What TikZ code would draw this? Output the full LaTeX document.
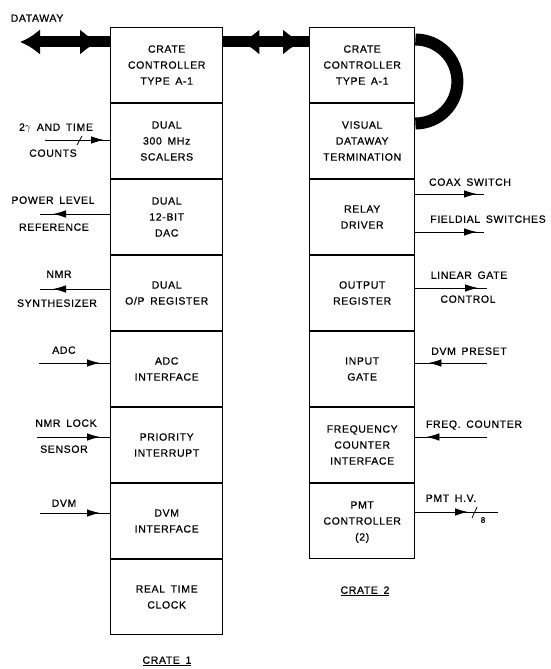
\documentclass[tikz,border=0pt]{standalone}
\usepackage{fontspec}
\setmainfont{Liberation Sans}
\newfontfamily\lettering[LetterSpace=6, WordSpace=1.6, FakeBold=0.6]{Liberation Sans}
\usetikzlibrary{positioning,arrows.meta,decorations.markings}

\begin{document}
\begin{tikzpicture}[
    x=1pt, y=-1pt,
    every node/.style={font=\lettering\fontsize{10.5}{16}\selectfont},
    module/.style={draw, line width=1.4pt, minimum height=74.6pt, align=center, inner sep=2pt},
    crateone/.style={module, minimum width=112pt},
    cratetwo/.style={module, minimum width=105pt},
    lbl/.style={inner sep=0pt, text height=7.5pt, text depth=0pt},
    sig/.style={line width=0.8pt},
    tipat/.style={postaction={decorate, decoration={markings,
        mark=at position #1 with {\arrow{Latex[length=13pt,width=7.5pt]}}}}},
    bus/.style={line width=11pt},
    busfwd/.style={postaction={decorate, decoration={markings,
        mark=at position #1 with {\arrow{Latex[length=19pt,width=26pt]}}}}},
    busback/.style={postaction={decorate, decoration={markings,
        mark=at position #1 with {\arrowreversed{Latex[length=19pt,width=26pt]}}}}},
  ]
  \useasboundingbox (0,0) rectangle (550,669);

  % Crate 1
  \node[crateone, anchor=north west] (cc1) at (110,27) {CRATE\\CONTROLLER\\TYPE A-1};
  \node[crateone, below=0pt of cc1] (scal) {DUAL\\300 MHz\\SCALERS};
  \node[crateone, below=0pt of scal] (dac) {DUAL\\12-BIT\\DAC};
  \node[crateone, below=0pt of dac] (opreg) {DUAL\\O/P REGISTER};
  \node[crateone, below=0pt of opreg] (adcif) {ADC\\INTERFACE};
  \node[crateone, below=0pt of adcif] (prio) {PRIORITY\\INTERRUPT};
  \node[crateone, below=0pt of prio] (dvmif) {DVM\\INTERFACE};
  \node[crateone, below=0pt of dvmif] (rtc) {REAL TIME\\CLOCK};

  % Crate 2
  \node[cratetwo, anchor=north west] (cc2) at (309,27) {CRATE\\CONTROLLER\\TYPE A-1};
  \node[cratetwo, below=0pt of cc2] (vdt) {VISUAL\\DATAWAY\\TERMINATION};
  \node[cratetwo, below=0pt of vdt] (relay) {RELAY\\DRIVER};
  \node[cratetwo, below=0pt of relay] (outreg) {OUTPUT\\REGISTER};
  \node[cratetwo, below=0pt of outreg] (ingate) {INPUT\\GATE};
  \node[cratetwo, below=0pt of ingate] (freqif) {FREQUENCY\\COUNTER\\INTERFACE};
  \node[cratetwo, below=0pt of freqif, text depth=-6pt] (pmtc) {PMT\\CONTROLLER\\(2)};

  % Dataway
  \coordinate (dwend) at (20,42);
  \coordinate (loopa) at (414,39.5);
  \node[lbl] (dwlbl) at (37,18) {DATAWAY};
  \draw[bus, {Latex[length=20pt,width=26pt]}-, busfwd=-11pt] (dwend) -- (cc1.west |- dwend);
  \draw[bus, busback=17pt, busfwd=-7pt] (cc1.east |- dwend) -- (cc2.west |- dwend);
  \draw[line width=12pt] (cc2.east |- loopa) arc[start angle=-90, end angle=90, radius=42];

  % Crate 1 signals
  \coordinate (cntin) at (45,140);
  \coordinate (pwrout) at (40,214);
  \coordinate (synout) at (40,289);
  \coordinate (adcin) at (39,363);
  \coordinate (lockin) at (37,437);
  \coordinate (dvmin) at (40,513);
  \draw[sig, tipat=-6pt] (cntin) -- (scal.west |- cntin);
  \draw[sig] (77,145) -- (82,136);
  \draw[sig, tipat=-13pt] (dac.west |- pwrout) -- (pwrout);
  \draw[sig, tipat=-13pt] (opreg.west |- synout) -- (synout);
  \draw[sig, tipat=-10pt] (adcin) -- (adcif.west |- adcin);
  \draw[sig, tipat=-10pt] (lockin) -- (prio.west |- lockin);
  \draw[sig, tipat=-10pt] (dvmin) -- (dvmif.west |- dvmin);
  \node[lbl] (cntlbl) at (56,127) {2$\gamma$ AND TIME};
  \node[lbl] (cntlblb) at (53,153) {COUNTS};
  \node[lbl] (pwrlbl) at (53,200) {POWER LEVEL};
  \node[lbl] (pwrlblb) at (54,227) {REFERENCE};
  \node[lbl] (synlbl) at (59,274) {NMR};
  \node[lbl] (synlblb) at (57,303) {SYNTHESIZER};
  \node[lbl] (adclbl) at (64,350) {ADC};
  \node[lbl] (locklbl) at (66,423) {NMR LOCK};
  \node[lbl] (locklblb) at (64,449) {SENSOR};
  \node[lbl] (dvmlbl) at (64,503) {DVM};

  % Crate 2 signals
  \coordinate (coaxout) at (484,194);
  \coordinate (fieldout) at (484,232);
  \coordinate (gateout) at (487,288);
  \coordinate (presetin) at (487,363);
  \coordinate (freqin) at (487,437);
  \coordinate (hvout) at (498,512);
  \draw[sig, tipat=-7pt] (relay.east |- coaxout) -- (coaxout);
  \draw[sig, tipat=-7pt] (relay.east |- fieldout) -- (fieldout);
  \draw[sig, tipat=-9pt] (outreg.east |- gateout) -- (gateout);
  \draw[sig, tipat=-13pt] (presetin) -- (ingate.east |- presetin);
  \draw[sig, tipat=-11pt] (freqin) -- (freqif.east |- freqin);
  \draw[sig, tipat=-30pt] (pmtc.east |- hvout) -- (hvout);
  \draw[sig] (472,518) -- (477,507);
  \node[lbl, font=\lettering\fontsize{8}{10}\selectfont] (hvwidth) at (483,519) {8};
  \node[lbl] (coaxlbl) at (470,182) {COAX SWITCH};
  \node[lbl] (fieldlbl) at (488,219) {FIELDIAL SWITCHES};
  \node[lbl] (gatelbl) at (469,275) {LINEAR GATE};
  \node[lbl] (gatelblb) at (468,299) {CONTROL};
  \node[lbl] (presetlbl) at (469,351) {DVM PRESET};
  \node[lbl] (freqlbl) at (474,424) {FREQ. COUNTER};
  \node[lbl] (hvlbl) at (451,498) {PMT H.V.};

  % Crate titles
  \node[lbl] (crateonelbl) at (167,660) {\underline{CRATE 1}};
  \node[lbl] (cratetwolbl) at (365,590) {\underline{CRATE 2}};
\end{tikzpicture}
\end{document}
